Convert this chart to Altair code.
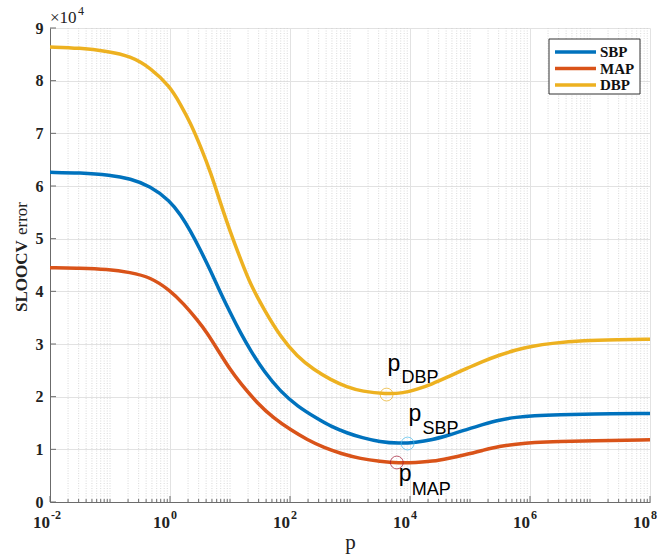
import altair as alt
import pandas as pd

# ---- data (SLOOCV error in units of 1e4, p given as log10 exponent) ----
series = ["SBP", "MAP", "DBP"]
line_colors = ["#0072BD", "#D95319", "#EDB120"]

sbp_logp = [-2.0, -1.5, -1.0, -0.66, -0.33, 0.0, 0.18, 0.34, 0.51, 0.68, 0.84, 1.01, 1.18, 1.34, 1.57, 1.84, 2.12, 2.46, 2.69, 2.95, 3.2, 3.5, 3.81, 4.1, 4.37, 4.65, 4.93, 5.21, 5.49, 5.77, 6.05, 6.5, 7.0, 8.0]
sbp_err = [6.26, 6.25, 6.21, 6.14, 6.00, 5.72, 5.45, 5.15, 4.78, 4.38, 3.98, 3.58, 3.20, 2.88, 2.47, 2.10, 1.82, 1.58, 1.43, 1.31, 1.22, 1.14, 1.11, 1.13, 1.18, 1.27, 1.37, 1.47, 1.56, 1.61, 1.64, 1.66, 1.67, 1.68]

map_logp = [-2.0, -1.5, -1.05, -0.66, -0.33, 0.0, 0.23, 0.46, 0.62, 0.80, 1.01, 1.17, 1.45, 1.73, 2.01, 2.29, 2.57, 2.85, 3.18, 3.5, 3.81, 4.1, 4.37, 4.65, 4.93, 5.21, 5.49, 5.77, 6.05, 6.5, 7.0, 8.0]
map_err = [4.45, 4.44, 4.42, 4.36, 4.27, 4.02, 3.76, 3.45, 3.21, 2.88, 2.50, 2.26, 1.88, 1.59, 1.37, 1.18, 1.03, 0.92, 0.82, 0.77, 0.74, 0.75, 0.77, 0.83, 0.90, 0.98, 1.06, 1.10, 1.13, 1.15, 1.16, 1.18]

dbp_logp = [-2.0, -1.5, -1.05, -0.66, -0.32, 0.0, 0.18, 0.34, 0.51, 0.68, 0.84, 1.01, 1.18, 1.34, 1.57, 1.84, 2.12, 2.40, 2.68, 2.95, 3.2, 3.6, 3.9, 4.09, 4.37, 4.64, 4.93, 5.21, 5.49, 5.77, 6.05, 6.33, 6.89, 7.5, 8.0]
dbp_err = [8.64, 8.62, 8.56, 8.47, 8.24, 7.89, 7.54, 7.20, 6.75, 6.25, 5.68, 5.11, 4.60, 4.13, 3.65, 3.14, 2.76, 2.51, 2.32, 2.18, 2.10, 2.05, 2.07, 2.13, 2.24, 2.38, 2.53, 2.67, 2.79, 2.89, 2.96, 3.01, 3.07, 3.08, 3.09]

# optimum markers
opt_series = ["DBP", "SBP", "MAP"]
opt_logp = [3.61, 3.96, 3.78]
opt_err = [2.04, 1.11, 0.75]
opt_colors = ["#EDB120", "#4DBEEE", "#A2142F"]

x_tick_exponents = [-2, 0, 2, 4, 6, 8]
y_tick_values = [0, 1, 2, 3, 4, 5, 6, 7, 8, 9]

# ---- tables ----
rows = []
for name, lp, ev in [("SBP", sbp_logp, sbp_err), ("MAP", map_logp, map_err), ("DBP", dbp_logp, dbp_err)]:
    for a, b in zip(lp, ev):
        rows.append({"p": 10 ** a, "err": b, "series": name})
df = pd.DataFrame(rows)

opt_df = pd.DataFrame({"series": opt_series, "p": [10 ** v for v in opt_logp],
                       "err": opt_err, "c": opt_colors})

minor_vals = []
for d in range(-2, 8):
    for k in range(1, 10):
        if k == 1 and d % 2 == 0:
            continue
        minor_vals.append(k * 10.0 ** d)
minor_df = pd.DataFrame({"p": minor_vals})
major_df = pd.DataFrame({"p": [10.0 ** e for e in x_tick_exponents]})
ytick_df = pd.DataFrame({"err": y_tick_values})
xlab_df = pd.DataFrame({"p": [10.0 ** e for e in x_tick_exponents],
                        "base": ["10"] * len(x_tick_exponents),
                        "exp": [str(e) for e in x_tick_exponents]})
legend_df = pd.DataFrame({"series": series, "c": line_colors, "i": list(range(len(series)))})
one_df = pd.DataFrame({"k": [0]})

W, H = 600, 474
SERIF = "Liberation Serif"
SANS = "Liberation Sans"
AX = "#6b6b6b"

xscale = alt.Scale(type="log", domain=[1e-2, 1e8], nice=False)
yscale = alt.Scale(domain=[0, 9], nice=False)
xaxis = alt.Axis(values=[10.0 ** e for e in x_tick_exponents], labels=False, ticks=False,
                 grid=True, gridColor="#e2e2e2", gridWidth=1,
                 domainColor=AX, domainWidth=1,
                 title="p", titleFont=SERIF, titleFontSize=21, titleFontWeight="normal",
                 titleColor="#222", titlePadding=29)
yaxis = alt.Axis(values=y_tick_values, ticks=False, grid=True, gridColor="#e2e2e2",
                 gridWidth=1, domainColor=AX, domainWidth=1,
                 labelFont=SERIF, labelFontSize=16, labelFontWeight="bold",
                 labelColor="#222", labelPadding=7, title=None)

def X():
    return alt.X("p:Q", scale=xscale, axis=xaxis)

def Y():
    return alt.Y("err:Q", scale=yscale, axis=yaxis)

minor_grid = alt.Chart(minor_df).mark_rule(color="#cfcfcf", strokeWidth=0.8, strokeDash=[1, 1.5]).encode(
    x=X(), y=alt.value(0), y2=alt.value(H))

minor_ticks = alt.Chart(minor_df).mark_rule(color=AX, strokeWidth=1).encode(
    x=X(), y=alt.value(H), y2=alt.value(H - 3))
major_ticks = alt.Chart(major_df).mark_rule(color=AX, strokeWidth=1).encode(
    x=X(), y=alt.value(H), y2=alt.value(H - 6))
y_ticks = alt.Chart(ytick_df).mark_rule(color=AX, strokeWidth=1).encode(
    y=Y(), x=alt.value(0), x2=alt.value(6))

lines = alt.Chart(df).mark_line(strokeWidth=3.5, interpolate="basis").encode(
    x=X(), y=Y(),
    color=alt.Color("series:N", scale=alt.Scale(domain=series, range=line_colors), legend=None))

circles = alt.Chart(opt_df).mark_point(shape="circle", filled=False, size=165, strokeWidth=1).encode(
    x=X(), y=Y(), color=alt.Color("c:N", scale=None))

def ptext(name, txt, size, dx, dy):
    return alt.Chart(opt_df[opt_df.series == name]).mark_text(
        text=txt, font=SANS, fontSize=size, align="left", baseline="alphabetic",
        dx=dx, dy=dy, color="#000").encode(x=X(), y=Y())

labels = [
    ptext("DBP", "p", 23, 1, -24), ptext("DBP", "DBP", 18, 15, -12),
    ptext("SBP", "p", 23, 1, -23), ptext("SBP", "SBP", 18, 15, -10),
    ptext("MAP", "p", 23, 2, 18), ptext("MAP", "MAP", 18, 15, 32),
]

xbase = alt.Chart(xlab_df).mark_text(font=SERIF, fontSize=17, fontWeight="bold", align="right",
                                     baseline="alphabetic", color="#222").encode(
    x=X(), y=alt.value(H + 26), text="base:N")
xexp = alt.Chart(xlab_df).mark_text(font=SERIF, fontSize=12, fontWeight="bold", align="left",
                                    baseline="alphabetic", dx=1, color="#222").encode(
    x=X(), y=alt.value(H + 17), text="exp:N")

mult_base = alt.Chart(one_df).mark_text(text="×10", font=SERIF, fontSize=17, align="left",
                                        baseline="alphabetic", color="#222").encode(
    x=alt.value(0), y=alt.value(-5))
mult_exp = alt.Chart(one_df).mark_text(text="4", font=SERIF, fontSize=12, align="left",
                                       baseline="alphabetic", color="#222").encode(
    x=alt.value(28), y=alt.value(-13))

ytitle_a = alt.Chart(one_df).mark_text(text="SLOOCV", font=SERIF, fontSize=17, fontWeight="bold",
                                       angle=270, align="left", baseline="alphabetic",
                                       color="#222").encode(x=alt.value(-23), y=alt.value(284))
ytitle_b = alt.Chart(one_df).mark_text(text="error", font=SERIF, fontSize=17,
                                       angle=270, align="left", baseline="alphabetic",
                                       color="#222").encode(x=alt.value(-23), y=alt.value(207))

# ---- legend (drawn manually) ----
leg_box = alt.Chart(one_df).mark_rect(fill="white", stroke="#333", strokeWidth=1).encode(
    x=alt.value(499), x2=alt.value(590), y=alt.value(11), y2=alt.value(66))
leg_lines = alt.Chart(legend_df).transform_calculate(ly="24 + 16.5 * datum.i").mark_rule(
    strokeWidth=3.5).encode(
    x=alt.value(505), x2=alt.value(546), y=alt.Y("ly:Q", scale=None, axis=None),
    color=alt.Color("c:N", scale=None))
leg_text = alt.Chart(legend_df).transform_calculate(ly="24 + 16.5 * datum.i").mark_text(
    font=SERIF, fontSize=15, fontWeight="bold", align="left", baseline="middle", color="#111").encode(
    x=alt.value(550), y=alt.Y("ly:Q", scale=None, axis=None), text="series:N")

chart = alt.layer(
    minor_grid, minor_ticks, major_ticks, y_ticks, lines, circles, *labels,
    xbase, xexp, mult_base, mult_exp, ytitle_a, ytitle_b, leg_box, leg_lines, leg_text
).properties(
    width=W, height=H,
    autosize=alt.AutoSizeParams(type="none"),
    padding={"left": 50, "top": 28, "right": 9, "bottom": 55},
    background="white",
).configure_view(stroke=None)

chart.save("out.html", embed_options={"renderer": "svg", "actions": False})
